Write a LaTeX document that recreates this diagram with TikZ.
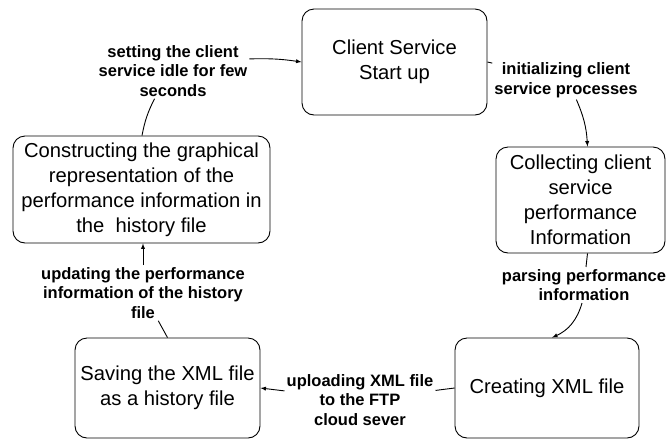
\documentclass[tikz,border=0pt]{standalone}
\usepackage{fontspec}
\setmainfont{Liberation Sans}
\usepackage{tikz}
\usetikzlibrary{arrows}

\tikzset{
    stagebox/.style={draw, rounded corners=12pt, line width=0.9pt, align=center,
        font=\fontsize{20.2}{25}\selectfont, inner sep=0pt},
    edgelabel/.style={align=center, inner sep=2pt,
        font=\fontsize{16.5}{19.5}\selectfont\bfseries},
    flow/.style={line width=0.9pt}
}

\begin{document}
\begin{tikzpicture}[x=1pt, y=1pt]
        \useasboundingbox (0,0) rectangle (669,-440);

        % Stages of the client service
        \node[stagebox, minimum width=185pt, minimum height=106pt] (start) at (394.5,-62)
            {Client Service\\Start up};
        \node[stagebox, minimum width=169pt, minimum height=106pt] (collect) at (580.5,-200)
            {Collecting client\\service\\performance\\Information};
        \node[stagebox, minimum width=184pt, minimum height=100pt] (create) at (547,-388)
            {Creating XML file};
        \node[stagebox, minimum width=185pt, minimum height=100pt] (save) at (167.5,-388)
            {Saving the XML file\\as a history file};
        \node[stagebox, minimum width=257pt, minimum height=107pt] (graph) at (141.5,-189.5)
            {Constructing the graphical\\representation of the\\performance information in\\the\ \ history file};

        % Labels on the connectors
        \node[edgelabel] (idle) at (173,-71) {setting the client\\service idle for few\\seconds};
        \node[edgelabel] (init) at (566,-80) {initializing client\\service processes};
        \node[edgelabel] (parse) at (584,-285) {parsing performance\\information};
        \node[edgelabel] (upload) at (360,-400) {uploading XML file\\to the FTP\\cloud sever};
        \node[edgelabel] (update) at (143,-293) {updating the performance\\information of the history\\file};

        % Connectors
        \draw[flow] (start.east) -- (init);
        \draw[flow, -latex] (init) to[bend left=10] ([xshift=7pt]collect.north);
        \draw[flow] ([xshift=7pt]collect.south) -- (parse);
        \draw[flow, -latex] (parse) to[bend left=25] ([xshift=5pt]create.north);
        \draw[flow] (create.west) -- (upload);
        \draw[flow, -latex] (upload) -- (save.east);
        \draw[flow] (save.north) -- (update);
        \draw[flow, -latex] (update) -- (update |- graph.south);
        \draw[flow] ([xshift=0.5pt]graph.north) to[bend left=8] (idle);
        \draw[flow, -latex] (idle) to[bend left=5] (start.west);
    \end{tikzpicture}
\end{document}
